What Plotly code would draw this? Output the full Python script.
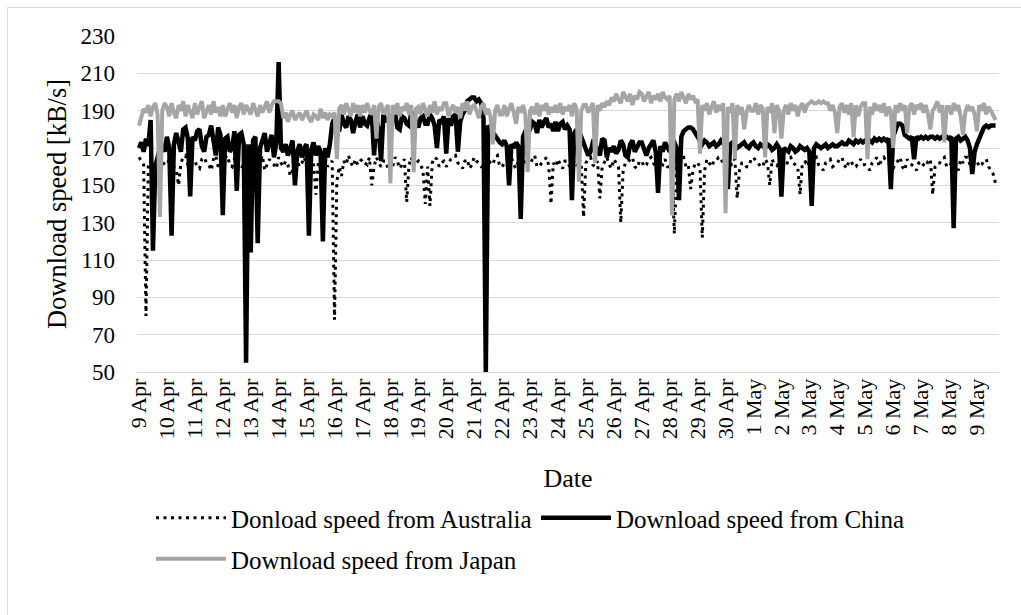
import pandas as pd
import plotly.graph_objects as go

# ---- data: 2-hourly samples starting 9 Apr 00:00 (one row per day) ----
australia = [
    165, 163, 161, 80, 160, 163, 158, 162, 164, 160, 163, 161,
    161, 164, 165, 160, 158, 150, 162, 165, 166, 161, 160, 163,
    163, 160, 159, 164, 165, 162, 161, 158, 164, 166, 160, 162,
    162, 165, 166, 161, 160, 164, 163, 159, 159, 162, 164, 161,
    161, 163, 165, 160, 162, 166, 158, 161, 164, 162, 161, 159,
    165, 162, 160, 163, 161, 155, 158, 154, 163, 160, 162, 165,
    160, 163, 164, 161, 145, 162, 159, 164, 165, 160, 162, 163,
    78, 152, 160, 155, 163, 161, 166, 162, 160, 164, 161, 163,
    164, 162, 161, 165, 150, 160, 165, 162, 160, 163, 163, 159,
    162, 160, 165, 163, 159, 161, 164, 141, 161, 165, 160, 162,
    163, 161, 158, 140, 160, 139, 162, 165, 164, 160, 162, 163,
    160, 162, 164, 165, 166, 162, 161, 159, 163, 164, 159, 161,
    165, 163, 162, 160, 160, 164, 164, 162, 161, 165, 166, 160,
    160, 162, 163, 165, 165, 161, 159, 163, 162, 160, 164, 162,
    161, 164, 166, 160, 160, 162, 163, 165, 161, 140, 162, 160,
    164, 161, 159, 163, 163, 160, 165, 162, 160, 164, 162, 133,
    162, 164, 165, 161, 160, 163, 143, 160, 163, 165, 161, 159,
    164, 162, 160, 130, 158, 162, 162, 164, 165, 160, 159, 163,
    163, 160, 161, 164, 165, 162, 160, 163, 162, 161, 164, 160,
    160, 162, 124, 161, 163, 165, 165, 160, 161, 148, 158, 162,
    162, 160, 122, 158, 164, 162, 160, 163, 163, 165, 165, 161,
    161, 163, 159, 164, 164, 143, 158, 162, 162, 160, 160, 164,
    165, 163, 162, 160, 160, 164, 162, 150, 164, 161, 161, 159,
    163, 161, 160, 164, 165, 162, 161, 160, 145, 162, 162, 164,
    160, 162, 164, 165, 161, 160, 158, 162, 163, 164, 160, 161,
    162, 164, 165, 161, 159, 163, 163, 160, 160, 162, 164, 161,
    161, 160, 158, 162, 163, 165, 160, 164, 165, 163, 162, 160,
    159, 162, 163, 165, 160, 158, 164, 162, 161, 160, 158, 162,
    163, 161, 160, 163, 164, 145, 160, 162, 162, 164, 165, 160,
    160, 162, 163, 161, 158, 164, 162, 165, 165, 161, 160, 162,
    163, 160, 161, 163, 164, 160, 158, 156, 151,
]

china = [
    170, 173, 168, 175, 171, 185, 115, 160, 165, 170, 172, 168,
    176, 170, 123, 172, 178, 174, 168, 180, 181, 175, 144, 176,
    174, 179, 180, 171, 168, 176, 177, 182, 172, 166, 181, 177,
    134, 175, 176, 168, 170, 179, 147, 177, 178, 172, 55, 172,
    114, 174, 176, 119, 170, 175, 178, 168, 172, 177, 165, 173,
    216, 170, 168, 172, 166, 171, 174, 150, 168, 172, 165, 170,
    172, 123, 169, 173, 166, 171, 168, 120, 170, 165, 172, 183,
    186, 180, 179, 188, 183, 181, 187, 185, 178, 184, 188, 181,
    187, 183, 182, 186, 189, 166, 185, 180, 163, 188, 184, 186,
    184, 188, 189, 181, 180, 187, 186, 183, 182, 189, 188, 184,
    181, 186, 187, 183, 183, 188, 186, 182, 170, 185, 184, 187,
    167, 186, 182, 187, 188, 168, 184, 188, 190, 195, 196, 197,
    197, 195, 196, 194, 186, 50, 182, 180, 178, 176, 175, 173,
    172, 174, 171, 150, 172, 170, 173, 171, 132, 176, 179, 178,
    180, 184, 183, 178, 185, 181, 184, 186, 181, 183, 179, 184,
    179, 183, 184, 180, 182, 180, 142, 178, 180, 175, 176, 172,
    170, 166, 168, 173, 172, 168, 166, 175, 174, 165, 170, 168,
    171, 167, 169, 174, 172, 166, 165, 172, 174, 168, 170, 173,
    173, 169, 166, 170, 172, 174, 168, 146, 171, 168, 173, 170,
    168, 172, 173, 170, 142, 176, 179, 180, 181, 181, 180, 178,
    176, 173, 172, 174, 173, 171, 172, 173, 171, 172, 174, 172,
    171, 148, 172, 173, 172, 170, 171, 172, 173, 171, 170, 172,
    173, 171, 170, 172, 171, 170, 172, 171, 169, 170, 172, 170,
    144, 170, 169, 168, 171, 170, 168, 169, 171, 170, 169, 170,
    168, 139, 170, 172, 171, 170, 171, 172, 170, 171, 172, 171,
    171, 172, 173, 172, 172, 174, 173, 172, 174, 173, 174, 173,
    174, 175, 174, 173, 175, 174, 175, 174, 175, 174, 175, 148,
    176, 180, 183, 183, 182, 177, 176, 175, 176, 164, 176, 175,
    176, 175, 176, 175, 176, 176, 175, 176, 175, 176, 175, 176,
    175, 176, 127, 175, 176, 174, 175, 176, 174, 170, 156, 168,
    172, 175, 178, 181, 182, 181, 182, 182, 182,
]

japan = [
    182, 186, 191, 189, 193, 187, 192, 194, 188, 133, 190, 194,
    192, 187, 194, 189, 186, 193, 190, 195, 187, 193, 189, 186,
    194, 188, 192, 195, 186, 190, 193, 188, 195, 189, 192, 187,
    193, 187, 190, 194, 189, 193, 186, 192, 194, 188, 193, 190,
    188, 194, 190, 187, 193, 189, 192, 195, 189, 193, 195, 195,
    195, 194, 186, 189, 184, 188, 190, 185, 187, 189, 185, 188,
    190, 186, 184, 188, 187, 185, 191, 186, 189, 185, 188, 187,
    189, 164, 191, 193, 188, 194, 190, 187, 194, 189, 193, 187,
    193, 189, 194, 190, 188, 193, 175, 192, 194, 188, 191, 193,
    151, 193, 188, 194, 187, 192, 190, 194, 188, 193, 157, 191,
    192, 188, 194, 190, 187, 193, 189, 195, 188, 192, 190, 194,
    194, 187, 191, 193, 189, 192, 186, 194, 190, 195, 188, 192,
    193, 190, 186, 192, 194, 188, 191, 187, 172, 190, 193, 188,
    188, 193, 187, 191, 194, 189, 183, 192, 189, 193, 188, 157,
    190, 192, 188, 194, 187, 193, 190, 194, 188, 192, 189, 193,
    189, 194, 188, 192, 190, 193, 187, 194, 191, 152, 190, 193,
    193, 189, 191, 194, 162, 193, 190, 194, 192, 195, 193, 197,
    195, 199, 196, 194, 200, 197, 195, 199, 193, 198, 196, 200,
    199, 195, 197, 200, 194, 198, 196, 199, 195, 200, 197, 196,
    198, 134, 196, 199, 195, 200, 197, 194, 199, 196, 198, 195,
    196, 167, 193, 190, 194, 188, 192, 195, 189, 193, 190, 194,
    135, 192, 189, 194, 164, 193, 188, 192, 180, 189, 193, 190,
    190, 194, 188, 193, 191, 165, 192, 189, 194, 178, 193, 190,
    175, 190, 193, 188, 194, 190, 193, 187, 192, 194, 189, 193,
    194, 195, 194, 194, 195, 194, 195, 194, 194, 190, 193, 189,
    178, 192, 194, 189, 193, 188, 194, 176, 193, 187, 192, 194,
    194, 164, 192, 188, 194, 190, 193, 189, 194, 187, 192, 190,
    170, 193, 189, 194, 190, 193, 178, 192, 194, 188, 193, 191,
    194, 189, 193, 188, 180, 190, 192, 195, 189, 193, 173, 192,
    192, 188, 194, 190, 193, 187, 177, 189, 193, 190, 192, 188,
    179, 193, 190, 194, 188, 192, 190, 187, 185,
]

assert len(australia) == len(china) == len(japan), (len(australia), len(china), len(japan))
sample_times = pd.date_range("2019-04-09 00:00", periods=len(japan), freq="2h")

tick_dates = pd.date_range("2019-04-09", "2019-05-09", freq="D")
tick_labels = [
    "9 Apr", "10 Apr", "11 Apr", "12 Apr", "13 Apr", "14 Apr", "15 Apr",
    "16 Apr", "17 Apr", "18 Apr", "19 Apr", "20 Apr", "21 Apr", "22 Apr",
    "23 Apr", "24 Apr", "25 Apr", "26 Apr", "27 Apr", "28 Apr", "29 Apr",
    "30 Apr", "1 May", "2 May", "3 May", "4 May", "5 May", "6 May",
    "7 May", "8 May", "9 May",
]

FONT = "Liberation Serif, Times New Roman, serif"

fig = go.Figure()
fig.add_trace(go.Scatter(
    x=sample_times, y=australia, mode="lines",
    name="Donload speed from Australia",
    line=dict(color="#000000", width=3, dash="3px,4.5px"),
    legend="legend",
))
fig.add_trace(go.Scatter(
    x=sample_times, y=china, mode="lines",
    name="Download speed from China",
    line=dict(color="#000000", width=4.5),
    legend="legend2",
))
fig.add_trace(go.Scatter(
    x=sample_times, y=japan, mode="lines",
    name="Download speed from Japan",
    line=dict(color="#A5A5A5", width=4),
    legend="legend3",
))

L, R, T, B = 137, 22, 36, 243
W, H = 1021, 615
pw, ph = W - L - R, H - T - B


def px_x(p):
    return (p - L) / pw


def px_y(p):
    return (H - B - p) / ph


legend_common = dict(
    orientation="h", xanchor="left", yanchor="middle",
    font=dict(family=FONT, size=25, color="#000000"),
    bgcolor="rgba(0,0,0,0)", itemwidth=70, borderwidth=0,
)

fig.update_layout(
    width=W, height=H,
    margin=dict(l=L, r=R, t=T, b=B, autoexpand=False),
    paper_bgcolor="#FFFFFF", plot_bgcolor="#FFFFFF",
    font=dict(family=FONT, color="#000000"),
    showlegend=True,
    legend=dict(x=px_x(151), y=px_y(518), **legend_common),
    legend2=dict(x=px_x(536), y=px_y(518), **legend_common),
    legend3=dict(x=px_x(151), y=px_y(559), **legend_common),
    xaxis=dict(
        type="date",
        range=["2019-04-08 22:17", "2019-05-09 18:58"],
        tickmode="array", tickvals=tick_dates, ticktext=tick_labels,
        tickangle=-90, tickfont=dict(family=FONT, size=22, color="#000000"),
        ticklabelstandoff=-3,
        showgrid=False, zeroline=False,
        showline=True, linecolor="#D9D9D9", linewidth=1,
        ticks="",
        title=dict(text="Date", font=dict(family=FONT, size=26, color="#000000"), standoff=30),
        automargin=False,
    ),
    yaxis=dict(
        range=[50, 230], tickmode="linear", tick0=50, dtick=20,
        tickfont=dict(family=FONT, size=23, color="#000000"),
        showgrid=True, gridcolor="#D9D9D9", gridwidth=1,
        zeroline=False, showline=False, ticks="",
        ticklabelstandoff=21,
        title=dict(text="Download speed [kB/s]", font=dict(family=FONT, size=26.5, color="#000000"), standoff=6),
        automargin=False,
    ),
    shapes=[dict(
        type="rect", xref="paper", yref="paper",
        x0=px_x(7.5), x1=px_x(1030), y0=px_y(625), y1=px_y(7.5),
        line=dict(color="#D9D9D9", width=1), fillcolor="rgba(0,0,0,0)",
        layer="below",
    )],
)

# remove the browser's default 8px page margin so the chart sits at (0, 0)
fig.write_html(
    "out.html",
    config={"displayModeBar": False},
    post_script="document.body.style.margin='0';",
)
